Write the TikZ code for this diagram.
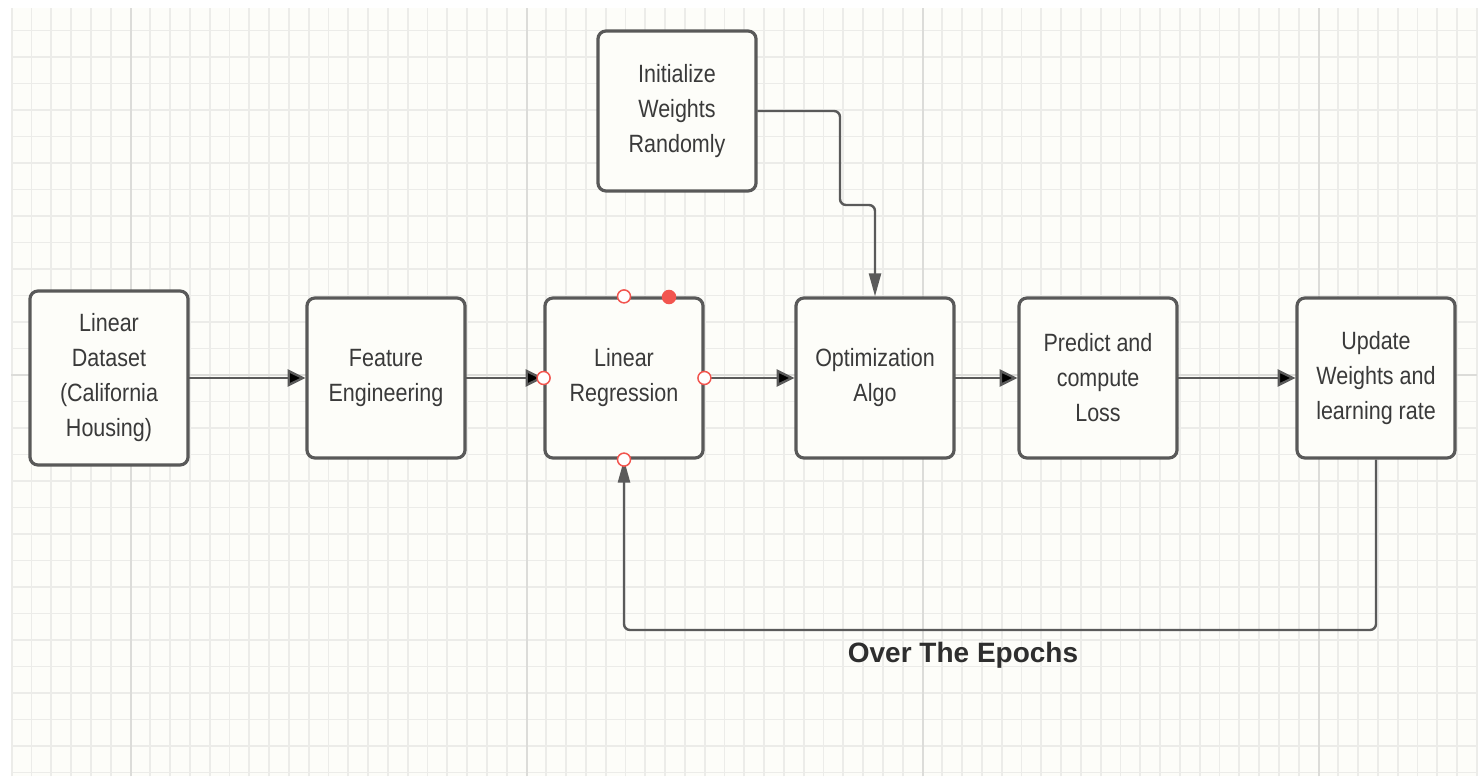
\documentclass[tikz,border=0pt]{standalone}
\usepackage{fontspec}
\setmainfont{Liberation Sans}
\usetikzlibrary{arrows.meta, positioning}

\definecolor{gridminor}{HTML}{ECECE9}
\definecolor{gridmajor}{HTML}{DCDCD9}
\definecolor{paper}{HTML}{FDFDF9}
\definecolor{boxline}{HTML}{595959}
\definecolor{boxtext}{HTML}{3A3A3A}
\definecolor{wiregray}{HTML}{5A5A5A}
\definecolor{pinred}{HTML}{F2554F}

\begin{document}
\begin{tikzpicture}[x=0.5pt,y=0.5pt,>={Triangle[length=9pt,width=8.5pt]},
    block/.style={draw=boxline,line width=1.6pt,rounded corners=4pt,fill=paper,
        text=boxtext,align=center,font=\fontsize{12.5}{17.5}\selectfont,
        xscale=.86,minimum width=91.9pt,minimum height=80pt,inner sep=0pt},
    wire/.style={draw=wiregray,line width=1.2pt,rounded corners=3pt},
    downtip/.style={-{Triangle[length=11.5pt,width=6pt]}},
    anchordot/.style={circle,draw=pinred,line width=0.75pt,fill=white,
        minimum size=6.5pt,inner sep=0pt}]
        % paper and grid
        \useasboundingbox (0,0) rectangle (1481,777);
        \fill[white] (0,0) rectangle (1481,777);
        \fill[paper] (11,1) rectangle (1477,769);
        \draw[gridminor,line width=0.9pt,xstep=9.9pt,ystep=13.25pt,shift={(130.5,402)}]
            (-119.5,-401) grid (1346.5,367);
        \draw[gridmajor,line width=1pt,xstep=198pt,ystep=265pt,shift={(130.5,402)}]
            (-119.5,-401) grid (1346.5,367);

        % boxes
        \node[block,minimum height=87pt](data_set) at (109,399){Linear\\Dataset\\(California\\Housing)};
        \node[block](feat_eng) at (386,399){Feature\\Engineering};
        \node[block](lin_reg) at (624,399){Linear\\Regression};
        \node[block](opt_algo) at (875,399){Optimization\\Algo};
        \node[block](pred_loss) at (1098,399){Predict and\\compute\\Loss};
        \node[block](upd_wts) at (1376,399){Update\\Weights and\\learning rate};
        \node[block](init_wts) at (677,666){Initialize\\Weights\\Randomly};

        \coordinate (init_jog) at (840,572);
        \coordinate (loop_back) at (624,147);

        \path[->,wire] (data_set)	edge	(feat_eng)
        		(feat_eng)	edge	(lin_reg)
        		(lin_reg)	edge	(opt_algo)
        		(opt_algo)	edge	(pred_loss)
        		(pred_loss)	edge	(upd_wts);
        \draw[wire,downtip] (init_wts.east) -| (init_jog) -| (opt_algo.north);
        \draw[wire,downtip] (upd_wts.south) |- (loop_back) -- (lin_reg.south);

        \node[font=\bfseries\fontsize{14}{16}\selectfont,text=boxtext!80!black](epochs) at (963,122){Over The Epochs};

        % selection handles on the regression box
        \node[anchordot](lin_reg_n) at (lin_reg.north) {};
        \node[anchordot,fill=pinred](lin_reg_ne) at (669,480) {};
        \node[anchordot](lin_reg_w) at (lin_reg.west) {};
        \node[anchordot](lin_reg_e) at (lin_reg.east) {};
        \node[anchordot](lin_reg_s) at (lin_reg.south) {};
\end{tikzpicture}
\end{document}
